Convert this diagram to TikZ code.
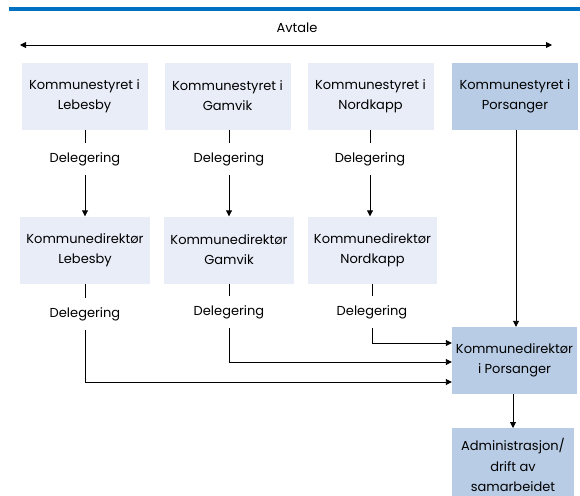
\documentclass[tikz,border=0pt]{standalone}
\usepackage{fontspec}
\setmainfont{Poppins}
\usetikzlibrary{arrows.meta}
\definecolor{topblue}{RGB}{0,112,192}
\definecolor{lightbox}{RGB}{233,237,248}
\definecolor{darkbox}{RGB}{185,204,230}
\begin{document}
\begin{tikzpicture}[x=1pt,y=-1pt,
  txt/.style={font=\fontsize{13}{20}\selectfont},
  box/.style={txt,fill=lightbox,minimum width=126pt,minimum height=67pt,align=center,inner sep=0pt},
  pbox/.style={box,fill=darkbox},
  deleg/.style={txt,inner sep=0pt,minimum height=32pt},
  conn/.style={line width=0.9pt,draw=black},
  arr/.style={conn,-{Triangle[length=6pt,width=6pt]}},
  darr/.style={conn,{Triangle[length=6pt,width=6pt]}-{Triangle[length=6pt,width=6pt]}}]
\useasboundingbox (0,0) rectangle (580,495);
\draw[topblue,line width=3.5pt] (9,9) -- (580,9);
\node[txt] (avt) at (297,28) {Avtale};
\coordinate (aL) at (20,45);
\coordinate (aR) at (552,45);
\draw[darr] (aL) -- (aR);
% row 1
\node[box] (s1) at (84.5,96) {Kommunestyret i\\Lebesby};
\node[box] (s2) at (227.5,96) {Kommunestyret i\\Gamvik};
\node[box] (s3) at (370.5,96) {Kommunestyret i\\Nordkapp};
\node[pbox] (s4) at (515,96) {Kommunestyret i\\Porsanger};
% delegering row 1
\node[deleg] (d1) at (85,159) {Delegering};
\node[deleg] (d2) at (229,159) {Delegering};
\node[deleg] (d3) at (370,159) {Delegering};
% row 2
\node[box,minimum width=130pt] (k1) at (85,250) {Kommunedirektør\\Lebesby};
\node[box,minimum width=130pt] (k2) at (229,250) {Kommunedirektør\\Gamvik};
\node[box,minimum width=129pt] (k3) at (372.5,250) {Kommunedirektør\\Nordkapp};
% delegering row 2
\node[deleg] (e1) at (85,314) {Delegering};
\node[deleg] (e2) at (229,312) {Delegering};
\node[deleg] (e3) at (372,312) {Delegering};
% Porsanger direktør and admin
\node[pbox,minimum width=125pt] (kp) at (514.5,360.5) {Kommunedirektør\\i Porsanger};
\fill[darkbox] (452,428) rectangle (574,500);
\node[txt,align=center,font=\fontsize{13}{20.5}\selectfont,inner sep=0pt] (adm) at (513,465) {Administrasjon/\\drift av\\samarbeidet};
\coordinate (admtop) at (513,428);
% connectors
\draw[conn] (s1.south -| d1) -- (d1.north);
\draw[conn] (s2.south -| d2) -- (d2.north);
\draw[conn] (s3.south -| d3) -- (d3.north);
\draw[arr] (d1.south) -- (k1.north -| d1);
\draw[arr] (d2.south) -- (k2.north -| d2);
\draw[arr] (d3.south) -- (k3.north -| d3);
\draw[arr] (s4.south -| 516,0) -- (kp.north -| 516,0);
\draw[conn] (k1.south) -- (e1.north);
\draw[conn] (k2.south) -- (e2.north);
\draw[conn] (k3.south -| e3) -- (e3.north);
\draw[arr] (e1.south) |- (kp.west |- 0,382);
\draw[arr] (e2.south) |- (kp.west |- 0,362);
\draw[arr] (e3.south) |- (kp.west |- 0,343);
\draw[arr] (kp.south -| admtop) -- (admtop);
\end{tikzpicture}
\end{document}
